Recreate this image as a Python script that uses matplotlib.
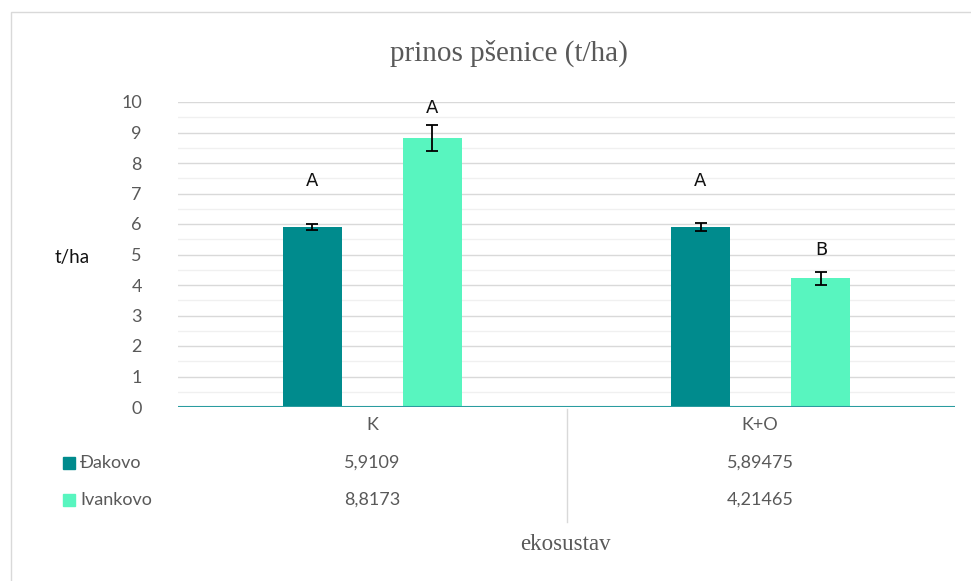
import matplotlib
matplotlib.use("Agg")
import matplotlib.pyplot as plt
import numpy as np
from matplotlib.patches import Rectangle
from matplotlib.lines import Line2D

categories = ["K", "K+O"]
series = ["Đakovo", "Ivankovo"]
dakovo = [5.9109, 5.89475]
ivankovo = [8.8173, 4.21465]
dakovo_err = [0.10, 0.13]
ivankovo_err = [0.44, 0.21]
dakovo_letters = ["A", "A"]
ivankovo_letters = ["A", "B"]
dakovo_letter_y = [7.4, 7.4]
ivankovo_letter_y = [9.8, 5.15]
yticks = list(range(0, 11))

colors = ["#008B8D", "#58F5BF"]
W, H = 971, 581
fig = plt.figure(figsize=(W / 100, H / 100), dpi=100)

def fx(px):
    return px / W

def fy(py):
    return 1 - py / H

# outer border
fig.add_artist(Rectangle((fx(11), fy(590)), fx(975) - fx(11), fy(12) - fy(590),
                         transform=fig.transFigure, fill=False, ec="#d9d9d9", lw=1))

ax = fig.add_axes([fx(178), fy(407), fx(955) - fx(178), fy(102) - fy(407)])
ax.set_xlim(-0.5, 1.5)
ax.set_ylim(0, 10)
for s in ax.spines.values():
    s.set_visible(False)
ax.set_yticks(yticks)
ax.set_yticks(np.arange(0.5, 10, 1), minor=True)
ax.yaxis.grid(True, which="major", color="#d9d9d9", lw=1)
ax.yaxis.grid(True, which="minor", color="#f0f0f0", lw=1)
ax.set_axisbelow(True)
ax.tick_params(axis="y", which="both", length=0, pad=26, labelsize=13, labelcolor="#595959")
for lab in ax.get_yticklabels():
    lab.set_fontfamily("Lato")
ax.set_xticks([])
ax.axhline(0, color="#2a9ca0", lw=1.5, zorder=3)

x = np.arange(len(categories))
bw = 0.152
off = 0.155
ekw = dict(ecolor="black", capsize=4.5, elinewidth=1.3, capthick=1.3)
ax.bar(x - off, dakovo, bw, color=colors[0], yerr=dakovo_err, error_kw=ekw, zorder=2)
ax.bar(x + off, ivankovo, bw, color=colors[1], yerr=ivankovo_err, error_kw=ekw, zorder=2)
for i in range(len(categories)):
    ax.text(x[i] - off, dakovo_letter_y[i], dakovo_letters[i], ha="center", va="center",
            fontsize=13, family="DejaVu Sans", color="#111111")
    ax.text(x[i] + off, ivankovo_letter_y[i], ivankovo_letters[i], ha="center", va="center",
            fontsize=13, family="DejaVu Sans", color="#111111")

# title and labels
fig.text(fx(509), fy(53), "prinos pšenice (t/ha)", ha="center", va="center",
         fontsize=21, family="Liberation Serif", color="#595959")
fig.text(fx(72), fy(258), "t/ha", ha="center", va="center", fontsize=13.5,
         family="Lato", color="#111111")
fig.text(fx(565), fy(545), "ekosustav", ha="center", va="center", fontsize=16.5,
         family="Liberation Serif", color="#595959")

# data table
cat_px = [372, 760]
fig.add_artist(Line2D([fx(567), fx(567)], [fy(409), fy(522)], transform=fig.transFigure,
                      color="#d9d9d9", lw=1))
for i, c in enumerate(categories):
    fig.text(fx(cat_px[i]), fy(425), c, ha="center", va="center", fontsize=13,
             family="Lato", color="#595959")

def fmt(v):
    return ("%g" % v).replace(".", ",")

rows_y = [463, 500]
for r, (name, vals) in enumerate(zip(series, [dakovo, ivankovo])):
    yy = rows_y[r]
    fig.add_artist(Rectangle((fx(63), fy(yy + 6)), fx(12), fy(0) - fy(12),
                             transform=fig.transFigure, color=colors[r]))
    fig.text(fx(80), fy(yy), name, ha="left", va="center", fontsize=13,
             family="Lato", color="#595959")
    for i in range(len(categories)):
        fig.text(fx(cat_px[i]), fy(yy), fmt(vals[i]), ha="center", va="center",
                 fontsize=13, family="Lato", color="#595959")

fig.savefig("out.png", dpi=100)
